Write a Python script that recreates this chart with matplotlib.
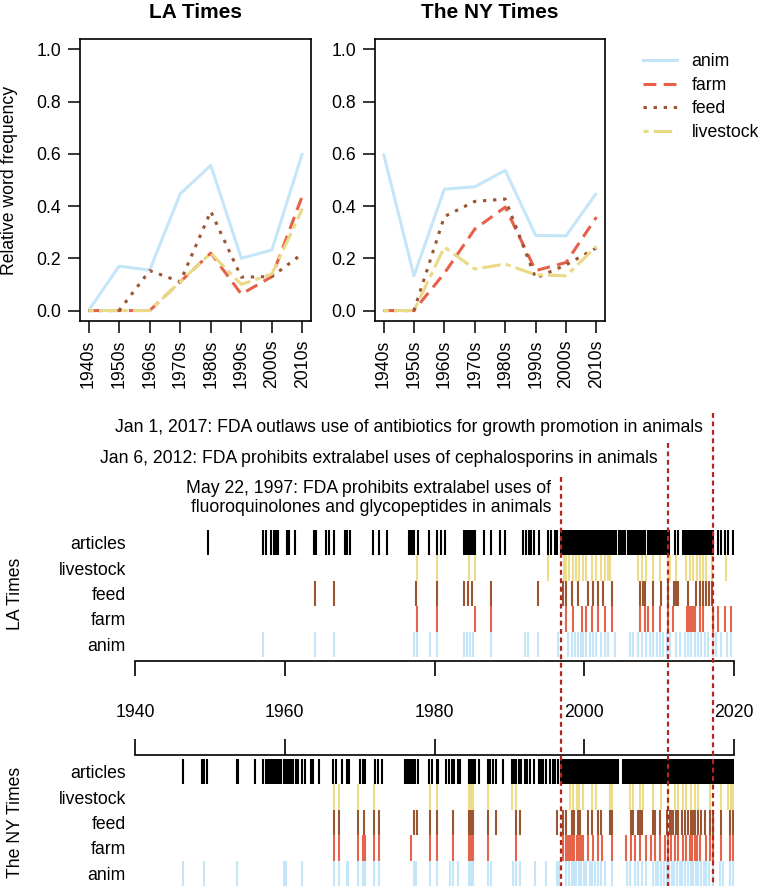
import matplotlib.pyplot as plt
from matplotlib import transforms
from matplotlib.lines import Line2D

plt.rcParams['font.family'] = ['Liberation Sans', 'DejaVu Sans']
plt.rcParams['font.size'] = 12.7

# ---- top panels: relative word frequency by decade ----
decades = ['1940s', '1950s', '1960s', '1970s', '1980s', '1990s', '2000s', '2010s']
words = ['anim', 'farm', 'feed', 'livestock']
word_colors = ['#c5e6f8', '#e8604a', '#9b5631', '#ead985']
word_dashes = [None, (4.2, 2.4), (1.1, 2.2), (1.7, 1.7, 6.0, 1.7)]

la_anim = [0.0, 0.17, 0.155, 0.447, 0.556, 0.2, 0.232, 0.603]
la_farm = [0.0, 0.0, 0.0, 0.11, 0.22, 0.063, 0.13, 0.44]
la_feed = [0.0, 0.0, 0.153, 0.11, 0.38, 0.128, 0.13, 0.218]
la_livestock = [0.0, 0.0, 0.0, 0.11, 0.22, 0.10, 0.14, 0.39]

ny_anim = [0.601, 0.133, 0.465, 0.474, 0.537, 0.288, 0.286, 0.45]
ny_farm = [0.0, 0.0, 0.143, 0.312, 0.396, 0.153, 0.184, 0.358]
ny_feed = [0.0, 0.0, 0.36, 0.418, 0.427, 0.124, 0.175, 0.24]
ny_livestock = [0.0, 0.0, 0.243, 0.159, 0.178, 0.137, 0.133, 0.246]

# ---- timeline: article dates (decimal years) ----
la_articles = [
    1949.7, 1957.1, 1957.45, 1958.1, 1958.5, 1958.8, 1959.1, 1960.25, 1960.55, 1961.35,
    1963.9, 1964.2, 1965.5, 1965.9, 1966.6, 1968.0, 1968.35, 1968.7,
    1971.8, 1972.6, 1973.6, 1976.6, 1976.8, 1977.0, 1977.3, 1977.8,
    1979.3, 1980.3, 1980.85, 1981.4, 1984.0, 1984.2, 1984.5, 1984.75, 1984.95, 1985.2, 1985.4,
    1986.6, 1987.6, 1988.7, 1989.4, 1991.85, 1992.2, 1992.6, 1992.9, 1993.35, 1994.0,
    1995.2, 1995.6, 1996.1, 1996.4,
    1996.9, 1997.1, 1997.3, 1997.5, 1997.7, 1997.9, 1998.1, 1998.3, 1998.5, 1998.7, 1998.9,
    1999.1, 1999.3, 1999.5, 1999.7, 2000.0, 2000.2, 2000.4, 2000.6, 2000.8, 2001.0, 2001.3,
    2001.5, 2001.7, 2001.9, 2002.1, 2002.3, 2002.5, 2002.7, 2002.9, 2003.1, 2003.3, 2003.5,
    2003.7, 2003.9, 2004.1, 2004.3, 2004.7, 2004.9, 2005.1, 2005.3, 2005.5, 2005.9, 2006.1,
    2006.3, 2006.5, 2006.7, 2006.9, 2007.1, 2007.3, 2007.5, 2007.7, 2007.9, 2008.1, 2008.5,
    2008.7, 2008.9, 2009.1, 2009.3, 2009.5, 2009.7, 2009.9, 2010.1, 2010.3, 2010.5, 2010.7,
    2010.9, 2011.1, 2011.3, 2012.1, 2012.5,
    2013.2, 2013.4, 2013.6, 2013.8, 2014.0, 2014.2, 2014.4, 2014.6, 2014.8, 2015.0, 2015.2,
    2015.4, 2015.6, 2015.8, 2016.0, 2016.2, 2016.4, 2016.6, 2016.8, 2017.0, 2017.2,
    2017.9, 2018.3, 2018.75, 2019.2, 2019.9]
la_livestock_dates = [
    1977.6, 1980.3, 1984.6, 1985.4, 1995.2, 1997.3, 1997.6, 1998.0, 1998.5, 1998.9, 1999.3,
    1999.85, 2000.3, 2001.0, 2001.6, 2002.3, 2002.75, 2003.2, 2003.5, 2007.2, 2007.65, 2008.3,
    2009.2, 2010.1, 2011.2, 2011.5, 2012.3, 2013.65, 2014.1, 2014.5, 2015.0, 2015.4, 2015.8,
    2016.2, 2017.1, 2018.9]
la_feed_dates = [
    1964.0, 1966.6, 1977.5, 1980.3, 1984.0, 1984.5, 1984.95, 1987.6, 1993.85, 1997.2, 1997.6,
    1998.3, 1999.2, 2000.5, 2001.2, 2001.85, 2002.5, 2003.65, 2007.4, 2007.8, 2008.1, 2009.2,
    2010.2, 2011.2, 2011.95, 2012.3, 2012.5, 2013.9, 2014.9, 2015.4, 2015.9, 2016.3, 2016.7,
    2017.1]
la_farm_dates = [
    1977.6, 1980.3, 1985.4, 1987.6, 1997.6, 1998.45, 1999.65, 2000.3, 2001.0, 2001.85, 2002.75,
    2003.65, 2007.4, 2008.1, 2008.5, 2009.2, 2010.1, 2011.2, 2011.9, 2013.7, 2014.0, 2014.3,
    2014.5, 2014.8, 2015.4, 2015.8, 2017.2, 2017.9, 2018.75, 2019.6]
la_anim_dates = [
    1957.1, 1964.0, 1966.6, 1977.2, 1977.6, 1979.4, 1980.3, 1984.0, 1984.3, 1984.7, 1985.2,
    1987.6, 1992.1, 1992.5, 1993.85, 1996.5, 1997.85, 1998.3, 1998.75, 1999.2, 1999.5, 1999.85,
    2000.3, 2000.75, 2001.2, 2001.6, 2002.3, 2002.75, 2003.2, 2004.1, 2006.1, 2006.5, 2007.2,
    2007.65, 2008.3, 2008.75, 2009.2, 2009.65, 2010.1, 2010.5, 2011.0, 2011.4, 2012.3, 2012.75,
    2013.4, 2013.9, 2014.3, 2014.75, 2015.2, 2015.65, 2016.1, 2016.55, 2017.2, 2017.65, 2018.3,
    2019.0, 2019.65]

ny_articles = [
    1946.45, 1948.9, 1949.2, 1949.65, 1953.6, 1953.7, 1956.0, 1957.1, 1957.45, 1957.7, 1957.9,
    1958.15, 1958.4, 1958.6, 1958.8, 1959.05, 1959.25, 1959.55, 1959.9, 1960.15, 1960.4, 1960.7,
    1960.9, 1961.15, 1961.45, 1961.8, 1962.25, 1962.7, 1963.45, 1963.8, 1964.6, 1966.5, 1966.9,
    1967.6, 1968.25, 1968.6, 1970.05, 1970.4, 1970.7, 1972.05, 1972.4, 1972.95, 1976.05, 1976.3,
    1976.5, 1976.7, 1977.0, 1977.2, 1977.4, 1977.85, 1979.3, 1979.6, 1980.35, 1980.5, 1981.6,
    1981.95, 1982.3, 1982.6, 1983.15, 1983.4, 1984.6, 1984.85, 1985.15, 1985.35, 1985.9, 1987.15,
    1987.35, 1987.8, 1988.25, 1989.1, 1990.4, 1990.6, 1990.9, 1991.25, 1991.6, 1992.05, 1992.3,
    1992.8, 1993.3, 1994.0, 1994.25, 1994.55, 1994.9, 1995.4, 1995.8, 1996.15, 1996.45,
    1996.9, 1997.1, 1997.35, 1997.6, 1997.85, 1998.1, 1998.35, 1998.6, 1998.85, 1999.1, 1999.35,
    1999.6, 1999.85, 2000.1, 2000.35, 2000.6, 2000.85, 2001.1, 2001.35, 2001.6, 2001.85, 2002.1,
    2002.35, 2002.6, 2002.85, 2003.1, 2003.35, 2003.6, 2003.85, 2004.1, 2004.35, 2004.55,
    2005.2, 2005.45, 2005.7, 2005.95, 2006.2, 2006.45, 2006.7, 2006.95, 2007.2, 2007.45, 2007.7,
    2007.95, 2008.2, 2008.45, 2008.7, 2008.95, 2009.2, 2009.45, 2009.7, 2009.95, 2010.2, 2010.45,
    2010.7, 2010.95, 2011.2, 2011.45, 2011.7, 2011.95, 2012.2, 2012.45, 2012.7, 2012.95, 2013.2,
    2013.45, 2013.7, 2013.95, 2014.2, 2014.45, 2014.7, 2014.95, 2015.2, 2015.45, 2015.7, 2015.95,
    2016.2, 2016.45, 2016.7, 2016.95, 2017.2, 2017.45, 2017.7, 2017.95, 2018.2, 2018.45, 2018.7,
    2018.95, 2019.2, 2019.45, 2019.7, 2019.95]
ny_livestock_dates = [
    1966.6, 1967.3, 1969.8, 1971.95, 1979.4, 1980.35, 1984.6, 1984.9, 1985.15, 1987.15, 1990.4,
    1990.95, 1998.1, 1998.5, 1999.0, 1999.3, 1999.8, 2001.0, 2001.6, 2003.4, 2003.65, 2006.1,
    2006.5, 2007.4, 2007.85, 2009.2, 2010.3, 2011.2, 2012.1, 2012.5, 2013.2, 2013.65, 2014.3,
    2014.75, 2015.2, 2016.75, 2018.3, 2019.2, 2019.65, 2019.9]
ny_feed_dates = [
    1966.6, 1967.3, 1969.8, 1970.6, 1971.95, 1972.6, 1977.2, 1977.6, 1979.4, 1980.35, 1982.5,
    1984.6, 1984.9, 1985.2, 1987.15, 1988.2, 1990.95, 1991.4, 1996.3, 1997.2, 1997.5, 1998.3,
    1998.6, 1999.2, 1999.4, 2000.5, 2001.1, 2001.85, 2002.3, 2003.4, 2003.65, 2006.3, 2006.5,
    2007.2, 2007.4, 2007.65, 2009.2, 2009.4, 2010.1, 2011.0, 2011.4, 2011.65, 2011.85, 2012.3,
    2012.5, 2013.0, 2013.4, 2013.9, 2014.3, 2014.5, 2014.75, 2015.2, 2015.65, 2016.1, 2016.75,
    2017.2, 2018.3, 2019.4, 2019.85]
ny_farm_dates = [
    1966.6, 1967.3, 1969.8, 1970.4, 1970.7, 1971.95, 1972.6, 1976.85, 1979.4, 1980.35, 1982.5,
    1984.6, 1984.9, 1985.2, 1987.15, 1990.95, 1997.2, 1997.5, 1997.8, 1998.1, 1998.4, 1998.65,
    1999.0, 1999.3, 1999.55, 1999.85, 2000.5, 2001.2, 2001.85, 2002.4, 2003.65, 2005.55, 2006.2,
    2006.75, 2007.4, 2008.3, 2008.95, 2009.4, 2010.1, 2010.75, 2011.2, 2011.65, 2012.1, 2012.5,
    2013.2, 2013.65, 2014.1, 2014.45, 2014.75, 2015.1, 2015.4, 2016.3, 2016.75, 2017.2, 2018.3,
    2019.4, 2019.85]
ny_anim_dates = [
    1946.45, 1949.2, 1953.6, 1959.9, 1960.15, 1962.25, 1966.6, 1967.3, 1968.25, 1968.5, 1969.8,
    1970.4, 1970.7, 1971.95, 1972.6, 1977.2, 1977.5, 1979.4, 1980.35, 1982.05, 1982.5, 1983.15,
    1984.6, 1984.85, 1985.15, 1987.15, 1987.5, 1990.5, 1990.95, 1991.4, 1993.4, 1994.95, 1996.3,
    1996.6, 1997.6, 1997.95, 1998.3, 1998.6, 1998.95, 1999.3, 1999.6, 2000.0, 2000.3, 2000.75,
    2001.1, 2001.4, 2001.85, 2002.3, 2002.75, 2003.65, 2005.65, 2006.1, 2006.75, 2007.2, 2007.65,
    2008.3, 2009.2, 2009.55, 2009.9, 2010.3, 2010.6, 2011.0, 2011.35, 2011.7, 2012.05, 2012.4,
    2012.75, 2013.1, 2013.45, 2013.85, 2014.2, 2014.55, 2014.9, 2015.25, 2015.6, 2015.95, 2016.3,
    2016.65, 2017.2, 2018.1, 2018.5, 2019.4, 2019.85]

row_names = ['anim', 'farm', 'feed', 'livestock', 'articles']
row_colors = ['#c5e6f8', '#e5654b', '#9b5631', '#ecdc8c', 'black']

event_years = [1996.9, 2011.2, 2017.15]
event_labels = ['May 22, 1997: FDA prohibits extralabel uses of\nfluoroquinolones and glycopeptides in animals',
                'Jan 6, 2012: FDA prohibits extralabel uses of cephalosporins in animals',
                'Jan 1, 2017: FDA outlaws use of antibiotics for growth promotion in animals']

W, H = 758, 886
fig = plt.figure(figsize=(W / 100, H / 100), dpi=100)


def box(x0, y0, x1, y1):
    # pixel box (top-left origin) -> figure fraction
    return [x0 / W, 1 - y1 / H, (x1 - x0) / W, (y1 - y0) / H]


def freq_panel(ax, series, title):
    for vals, col, dash in zip(series, word_colors, word_dashes):
        ln, = ax.plot(range(len(decades)), vals, color=col, lw=2.2, solid_capstyle='butt')
        if dash:
            ln.set_dashes(dash)
    ax.set_xlim(-0.28, 7.28)
    ax.set_ylim(-0.04, 1.04)
    ax.set_xticks(range(len(decades)))
    ax.set_xticklabels(decades, rotation=90)
    ax.set_yticks([0, 0.2, 0.4, 0.6, 0.8, 1.0])
    ax.set_yticklabels(['0.0', '0.2', '0.4', '0.6', '0.8', '1.0'])
    ax.tick_params(length=8.5, width=1.1, pad=5)
    for s in ax.spines.values():
        s.set_linewidth(1.2)
    ax.set_title(title, fontweight='bold', fontsize=15, pad=15)


ax1 = fig.add_axes(box(80, 39, 311, 321))
freq_panel(ax1, [la_anim, la_farm, la_feed, la_livestock], 'LA Times')
ax2 = fig.add_axes(box(375, 39, 605, 321))
freq_panel(ax2, [ny_anim, ny_farm, ny_feed, ny_livestock], 'The NY Times')
fig.text(10 / W, 1 - 180 / H, 'Relative word frequency', rotation=90, ha='center', va='center')

handles = []
for col, dash in zip(word_colors, word_dashes):
    h = Line2D([], [], color=col, lw=2.2)
    if dash:
        h.set_dashes(dash)
    handles.append(h)
fig.legend(handles, words, loc='upper left', bbox_to_anchor=(643 / W, 1 - 53 / H),
           frameon=False, borderpad=0, borderaxespad=0, handlelength=1.95,
           handletextpad=0.8, labelspacing=0.38)

# ---- timeline rugs ----
la_rows = [la_anim_dates, la_farm_dates, la_feed_dates, la_livestock_dates, la_articles]
ny_rows = [ny_anim_dates, ny_farm_dates, ny_feed_dates, ny_livestock_dates, ny_articles]


def rug_panel(ax, rows):
    for i, (dates, col) in enumerate(zip(rows, row_colors)):
        ax.vlines(dates, i, i + 1, color=col, lw=1.5)
    ax.set_xlim(1940, 2020)
    ax.set_xticks([1940, 1960, 1980, 2000, 2020])
    ax.set_yticks([0.5, 1.5, 2.5, 3.5, 4.5])
    ax.set_yticklabels(row_names)
    ax.tick_params(axis='y', length=0, pad=6.5)
    for s in ax.spines.values():
        s.set_visible(False)
        s.set_linewidth(1.2)


ax3 = fig.add_axes(box(135, 530, 734, 661))
rug_panel(ax3, la_rows)
ax3.set_ylim(-0.16, 5)
ax3.spines['bottom'].set_visible(True)
ax3.tick_params(axis='x', direction='out', length=11, width=1.2, pad=20)

ax4 = fig.add_axes(box(135, 755, 734, 886))
rug_panel(ax4, ny_rows)
ax4.set_ylim(0, 5.16)
ax4.spines['top'].set_visible(True)
ax4.tick_params(axis='x', direction='out', length=11.5, width=1.2, bottom=False,
                labelbottom=False, top=True)

fig.text(15 / W, 1 - 594 / H, 'LA Times', rotation=90, ha='center', va='center')
fig.text(15 / W, 1 - 822 / H, 'The NY Times', rotation=90, ha='center', va='center')

# ---- FDA events ----
ov = fig.add_axes(box(135, 0, 734, 886))
ov.set_xlim(1940, 2020)
ov.set_ylim(H, 0)
ov.axis('off')
event_tops = [477, 443, 413]
event_text_y = [498, 458, 427]
shift = transforms.offset_copy(ov.transData, fig=fig, x=-10, y=0, units='dots')
for yr, top, ty, lab in zip(event_years, event_tops, event_text_y, event_labels):
    ov.vlines(yr, top, H, color='#b3261e', lw=1.6, linestyles=(0, (2.2, 1.6)))
    ov.text(yr, ty, lab, transform=shift, ha='right', va='center', multialignment='right',
            linespacing=1.2)

fig.savefig('out.png', dpi=100)
